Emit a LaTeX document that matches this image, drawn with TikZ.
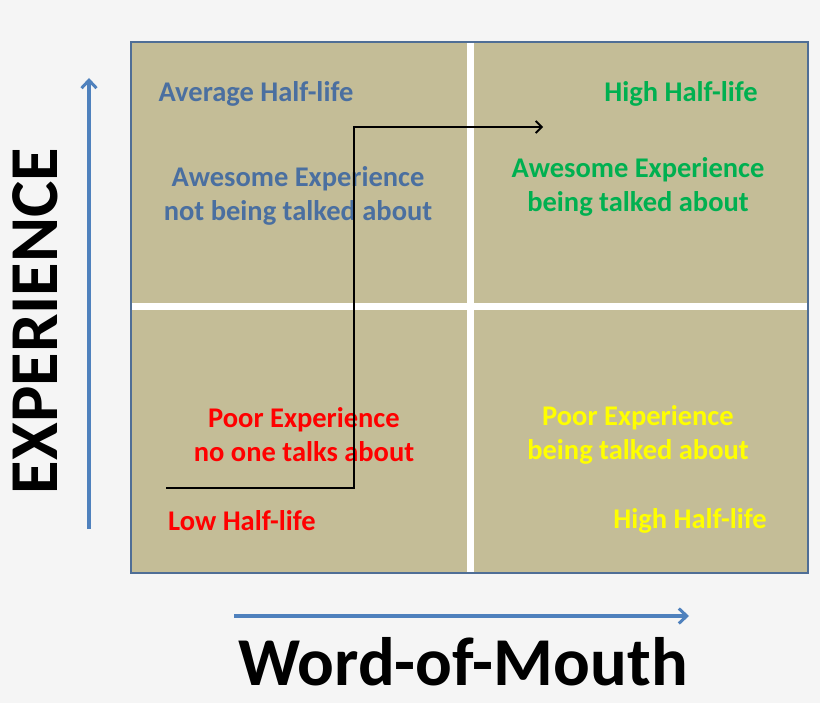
\documentclass[tikz,border=0pt]{standalone}
\usepackage{fontspec}
\setmainfont{Carlito}
\usetikzlibrary{arrows.meta}
\definecolor{bgc}{HTML}{F5F5F5}
\definecolor{boxc}{HTML}{C4BD97}
\definecolor{boxb}{HTML}{4F6E96}
\definecolor{axisc}{HTML}{4F81BD}
\definecolor{bluet}{HTML}{4A6FA0}
\definecolor{greent}{HTML}{00B050}
\definecolor{redt}{HTML}{FF0000}
\definecolor{yellowt}{HTML}{FFFF00}
\tikzset{
  qtext/.style={font=\bfseries\fontsize{28.5}{34}\selectfont, align=center, inner sep=0pt},
  axislbl/.style={font=\bfseries\fontsize{68.5}{72}\selectfont, inner sep=0pt},
  axisarrow/.style={draw=axisc, line width=3.2pt, -{Straight Barb[length=8pt,width=15pt,line width=3pt]}},
  patharrow/.style={draw=black, line width=2pt, -{Straight Barb[length=6pt,width=12pt,line width=1.8pt]}},
  divider/.style={draw=white, line width=7pt}
}
\begin{document}
\begin{tikzpicture}[x=1pt,y=-1pt]
\useasboundingbox (0,0) rectangle (820,703);
\fill[bgc] (0,0) rectangle (820,703);
\draw[boxb, fill=boxc, line width=2.5pt] (131,42) rectangle (808,573);
\coordinate (vt) at (470,43);
\coordinate (vb) at (470,572);
\coordinate (hl) at (132,307);
\coordinate (hr) at (807,307);
\draw[divider] (vt) -- (vb);
\draw[divider] (hl) -- (hr);

\node[qtext, text=bluet] (avg) at (256,93.5) {Average Half-life};
\node[qtext, text=greent] (hhl1) at (681,93.5) {High Half-life};
\node[qtext, text=bluet] (aen) at (298,195.5) {Awesome Experience\\not being talked about};
\node[qtext, text=greent] (aeb) at (638,186.5) {Awesome Experience\\being talked about};
\node[qtext, text=redt] (pen) at (304,434.5) {Poor Experience\\no one talks about};
\node[qtext, text=yellowt] (peb) at (638,434.5) {Poor Experience\\being talked about};
\node[qtext, text=redt] (low) at (242,521) {Low Half-life};
\node[qtext, text=yellowt] (hhl2) at (690,521) {High Half-life};

\coordinate (ps) at (166,488);
\coordinate (pc1) at (354,488);
\coordinate (pc2) at (354,127);
\coordinate (pe) at (543,127);
\draw[patharrow] (ps) -- (pc1) -- (pc2) -- (pe);

\coordinate (ys) at (89,529);
\coordinate (ye) at (89,78);
\draw[axisarrow] (ys) -- (ye);
\coordinate (xs) at (234,616);
\coordinate (xe) at (689,616);
\draw[axisarrow] (xs) -- (xe);

\node[axislbl, rotate=90] (ylab) at (35,321) {EXPERIENCE};
\node[axislbl, anchor=base] (xlab) at (463,685) {Word-of-Mouth};
\end{tikzpicture}
\end{document}
